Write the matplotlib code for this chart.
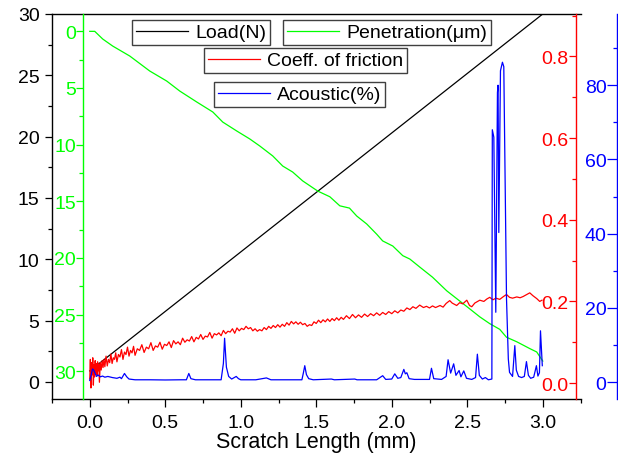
import matplotlib
matplotlib.use("Agg")
import matplotlib.pyplot as plt
from matplotlib.ticker import MultipleLocator, FormatStrFormatter

plt.rcParams["font.family"] = ["Liberation Sans", "DejaVu Sans"]
FS = 14

C_LOAD = "#000000"
C_PEN = "#00ff00"
C_COF = "#ff0000"
C_AE = "#0000ff"

# ---- data ------------------------------------------------------------
load_x = [0.0, 3.0]
load_y = [0.9, 30.0]

pen_x = [0.0, 0.033, 0.086, 0.152, 0.265, 0.397, 0.51, 0.596, 0.709, 0.815,
         0.881, 0.974, 1.06, 1.126, 1.212, 1.278, 1.344, 1.41, 1.51, 1.59,
         1.656, 1.72, 1.768, 1.834, 1.90, 1.94, 2.007, 2.073, 2.12, 2.185,
         2.27, 2.364, 2.45, 2.517, 2.583, 2.649, 2.715, 2.76, 2.828, 2.914,
         2.96, 3.0]
pen_y = [0.0, 0.0, 0.68, 1.30, 2.18, 3.50, 4.39, 5.27, 6.24, 7.12,
         8.01, 8.80, 9.50, 10.12, 11.0, 11.89, 12.42, 13.2, 14.1, 14.6,
         15.4, 15.6, 16.3, 17.0, 17.9, 18.5, 18.95, 19.8, 20.1, 20.8,
         21.7, 22.9, 23.8, 24.5, 25.2, 25.8, 26.3, 27.0, 27.4, 28.0,
         28.3, 29.1]

cof_x = [0.000, 0.004, 0.008, 0.012, 0.016, 0.020, 0.024, 0.028, 0.032, 0.036,
         0.040, 0.044, 0.048, 0.052, 0.056, 0.060, 0.064, 0.070, 0.076, 0.082,
         0.088, 0.094, 0.100, 0.108, 0.116, 0.124, 0.132, 0.140, 0.148, 0.156,
         0.164, 0.172, 0.180, 0.190, 0.200, 0.210, 0.220, 0.230, 0.240, 0.250,
         0.260, 0.270, 0.280, 0.290, 0.300, 0.315, 0.330, 0.345, 0.360, 0.375,
         0.390, 0.405, 0.420, 0.435, 0.450, 0.465, 0.480, 0.495, 0.510, 0.525,
         0.540, 0.555, 0.570, 0.585, 0.600, 0.615, 0.630, 0.645, 0.660, 0.675,
         0.690, 0.705, 0.720, 0.735, 0.750, 0.765, 0.780, 0.795, 0.810, 0.825,
         0.840, 0.855, 0.870, 0.885, 0.900, 0.915, 0.930, 0.945, 0.960, 0.975,
         0.990, 1.005, 1.020, 1.035, 1.050, 1.065, 1.080, 1.095, 1.110, 1.125,
         1.140, 1.155, 1.170, 1.185, 1.200, 1.215, 1.230, 1.245, 1.260, 1.275,
         1.290, 1.305, 1.320, 1.335, 1.350, 1.365, 1.380, 1.395, 1.410, 1.425,
         1.440, 1.455, 1.470, 1.485, 1.500, 1.515, 1.530, 1.545, 1.560, 1.575,
         1.590, 1.605, 1.620, 1.635, 1.650, 1.665, 1.680, 1.700, 1.720, 1.740,
         1.760, 1.780, 1.800, 1.820, 1.840, 1.860, 1.880, 1.900, 1.920, 1.940,
         1.960, 1.980, 2.000, 2.020, 2.040, 2.060, 2.080, 2.100, 2.120, 2.140,
         2.160, 2.185, 2.210, 2.230, 2.250, 2.270, 2.290, 2.320, 2.340, 2.360,
         2.384, 2.400, 2.430, 2.450, 2.470, 2.497, 2.515, 2.530, 2.550, 2.583,
         2.610, 2.630, 2.649, 2.670, 2.690, 2.715, 2.740, 2.760, 2.780, 2.800,
         2.828, 2.850, 2.870, 2.890, 2.914, 2.935, 2.960, 2.980, 2.995]
cof_y = [0.010, 0.058, -0.012, 0.050, 0.020, 0.062, -0.005, 0.045, 0.015, 0.055,
         0.025, 0.048, 0.020, 0.052, 0.030, 0.046, 0.002, 0.050, 0.032, 0.055,
         0.038, 0.058, 0.040, 0.066, 0.042, 0.058, 0.050, 0.071, 0.048, 0.062,
         0.058, 0.074, 0.052, 0.070, 0.064, 0.082, 0.058, 0.076, 0.070, 0.088,
         0.066, 0.080, 0.074, 0.090, 0.068, 0.084, 0.080, 0.094, 0.075, 0.088,
         0.084, 0.099, 0.080, 0.091, 0.088, 0.100, 0.083, 0.095, 0.092, 0.101,
         0.087, 0.104, 0.096, 0.101, 0.094, 0.110, 0.100, 0.106, 0.103, 0.114,
         0.101, 0.112, 0.108, 0.119, 0.107, 0.115, 0.113, 0.124, 0.110, 0.121,
         0.118, 0.123, 0.116, 0.129, 0.121, 0.127, 0.125, 0.133, 0.122, 0.135,
         0.128, 0.134, 0.131, 0.139, 0.133, 0.136, 0.128, 0.133, 0.127, 0.131,
         0.128, 0.136, 0.131, 0.139, 0.134, 0.141, 0.136, 0.143, 0.137, 0.144,
         0.139, 0.148, 0.142, 0.151, 0.145, 0.150, 0.144, 0.149, 0.143, 0.146,
         0.139, 0.143, 0.141, 0.150, 0.146, 0.154, 0.148, 0.155, 0.150, 0.157,
         0.151, 0.158, 0.153, 0.160, 0.154, 0.161, 0.156, 0.165, 0.158, 0.168,
         0.160, 0.167, 0.161, 0.169, 0.163, 0.170, 0.165, 0.172, 0.166, 0.173,
         0.168, 0.175, 0.170, 0.177, 0.172, 0.179, 0.176, 0.184, 0.180, 0.187,
         0.183, 0.191, 0.185, 0.188, 0.184, 0.189, 0.185, 0.190, 0.186, 0.195,
         0.202, 0.196, 0.190, 0.197, 0.194, 0.203, 0.190, 0.187, 0.196, 0.203,
         0.200, 0.206, 0.210, 0.204, 0.208, 0.205, 0.212, 0.217, 0.210, 0.208,
         0.211, 0.209, 0.212, 0.216, 0.221, 0.214, 0.207, 0.200, 0.203]

ae_x = [0.000, 0.010, 0.018, 0.025, 0.035, 0.045, 0.055, 0.070, 0.085, 0.100,
        0.120, 0.150, 0.180, 0.200, 0.210, 0.230, 0.245, 0.260, 0.300, 0.400,
        0.500, 0.600, 0.640, 0.656, 0.670, 0.700, 0.800, 0.870, 0.885, 0.893,
        0.905, 0.920, 0.940, 0.970, 0.985, 1.000, 1.100, 1.170, 1.200, 1.300,
        1.405, 1.415, 1.424, 1.435, 1.450, 1.480, 1.600, 1.620, 1.755, 1.770,
        1.900, 1.940, 1.960, 2.000, 2.020, 2.040, 2.060, 2.080, 2.090, 2.100,
        2.115, 2.150, 2.250, 2.263, 2.278, 2.330, 2.360, 2.373, 2.390, 2.410,
        2.425, 2.446, 2.458, 2.477, 2.495, 2.530, 2.555, 2.567, 2.580, 2.600,
        2.620, 2.640, 2.663, 2.666, 2.676, 2.689, 2.700, 2.704, 2.709, 2.720,
        2.733, 2.742, 2.760, 2.772, 2.780, 2.800, 2.815, 2.825, 2.840, 2.860,
        2.878, 2.892, 2.905, 2.920, 2.940, 2.958, 2.968, 2.978, 2.985, 2.997]
ae_y = [0.4, 2.0, 3.5, 3.3, 2.4, 1.5, 1.9, 1.4, 1.6, 1.3,
        1.5, 1.2, 1.0, 1.3, 0.9, 2.3, 1.4, 0.8, 0.6, 0.6,
        0.55, 0.6, 0.6, 2.3, 0.9, 0.6, 0.6, 0.6, 5.0, 11.8,
        4.0, 1.5, 0.8, 1.5, 0.9, 0.6, 0.6, 1.1, 0.6, 0.6,
        0.6, 2.5, 4.4, 2.0, 0.9, 0.6, 0.8, 0.6, 0.8, 0.6,
        0.6, 1.7, 0.7, 0.8, 2.2, 1.0, 1.2, 3.4, 2.2, 2.5,
        0.9, 0.7, 0.7, 3.7, 0.9, 0.7, 1.5, 6.0, 2.4, 4.9,
        1.8, 3.1, 1.4, 3.0, 1.0, 0.7, 1.2, 7.5, 1.8, 0.8,
        1.2, 0.6, 0.8, 68.0, 66.0, 18.8, 78.0, 80.0, 40.3, 83.9,
        86.2, 85.0, 22.4, 6.2, 2.6, 1.5, 9.8, 3.2, 1.5, 1.2,
        1.5, 5.5, 1.8, 1.0, 1.3, 4.4, 1.6, 2.5, 13.8, 4.4]

# ---- layout (figure fractions) ----------------------------------------
W_PX, H_PX = 618, 456
LEFT, RIGHT, TOP, BOTTOM = 52, 580.5, 15, 400
fig = plt.figure(figsize=(W_PX / 100, H_PX / 100), dpi=100)
ax = fig.add_axes([LEFT / W_PX, 1 - BOTTOM / H_PX,
                   (RIGHT - LEFT) / W_PX, (BOTTOM - TOP) / H_PX])


def pos(px):
    return (px - LEFT) / (RIGHT - LEFT)


def style_y(a, color, major, minor, fmt, lo, hi, spine_at, maj_len, pad):
    for s in ("top", "right", "bottom"):
        a.spines[s].set_visible(False)
    a.spines["left"].set_visible(True)
    a.spines["left"].set_position(("axes", spine_at))
    a.spines["left"].set_color(color)
    a.spines["left"].set_linewidth(1.0)
    a.yaxis.tick_left()
    a.yaxis.set_label_position("left")
    a.set_ylim(lo, hi)
    a.yaxis.set_major_locator(MultipleLocator(major))
    a.yaxis.set_minor_locator(MultipleLocator(minor))
    a.yaxis.set_major_formatter(FormatStrFormatter(fmt))
    a.tick_params(axis="y", which="major", direction="out", length=maj_len,
                  width=0.9, color=color, labelcolor=color, labelsize=FS,
                  pad=pad)
    a.tick_params(axis="y", which="minor", direction="out", length=2.6,
                  width=0.9, color=color)


# main (load) axis
ax.plot(load_x, load_y, color=C_LOAD, lw=0.9, label="Load(N)")
ax.set_xlim(-0.25, 3.25)
style_y(ax, C_LOAD, 5, 2.5, "%d", -1.39, 30.0, 0.0, 5.0, 4)
ax.spines["top"].set_visible(True)
ax.spines["bottom"].set_visible(True)
ax.spines["top"].set_linewidth(1.0)
ax.spines["bottom"].set_linewidth(1.0)
ax.xaxis.set_major_locator(MultipleLocator(0.5))
ax.xaxis.set_minor_locator(MultipleLocator(0.25))
ax.xaxis.set_major_formatter(FormatStrFormatter("%.1f"))
ax.tick_params(axis="x", which="major", direction="out", length=5.8,
               width=0.9, labelsize=FS, pad=5, top=False)
ax.tick_params(axis="x", which="minor", direction="out", length=3.0,
               width=0.9, top=False)
ax.set_xlabel("Scratch Length (mm)", fontsize=15.5, labelpad=0)

# penetration (inverted green axis)
axg = ax.twinx()
pen_line, = axg.plot(pen_x, pen_y, color=C_PEN, lw=0.9)
style_y(axg, C_PEN, 5, 2.5, "%d", 32.45, -1.53, pos(83), 5.0, 0)

# coefficient of friction
axr = ax.twinx()
cof_line, = axr.plot(cof_x, cof_y, color=C_COF, lw=0.9)
style_y(axr, C_COF, 0.2, 0.1, "%.1f", -0.039, 0.904, pos(576), 5.0, 0.5)

# acoustic emission
axb = ax.twinx()
ae_line, = axb.plot(ae_x, ae_y, color=C_AE, lw=0.9)
style_y(axb, C_AE, 20, 10, "%d", -4.58, 99.2, pos(617), 7.0, 0.5)

load_line = ax.get_lines()[0]
leg_kw = dict(loc="upper left", fontsize=FS, frameon=True, fancybox=False,
              shadow=False, framealpha=1, edgecolor="#404040",
              borderpad=0.2, handlelength=2.7, handletextpad=0.35,
              borderaxespad=0)
for handle, text, (px, py) in (
        (load_line, "Load(N)", (132, 21)),
        (pen_line, "Penetration(\u03bcm)", (283, 21)),
        (cof_line, "Coeff. of friction", (204, 49)),
        (ae_line, "Acoustic(%)", (214, 83))):
    leg = fig.legend([handle], [text],
                     bbox_to_anchor=(px / W_PX, 1 - py / H_PX), **leg_kw)
    leg.get_frame().set_linewidth(1.0)

fig.savefig("out.png", dpi=100)
